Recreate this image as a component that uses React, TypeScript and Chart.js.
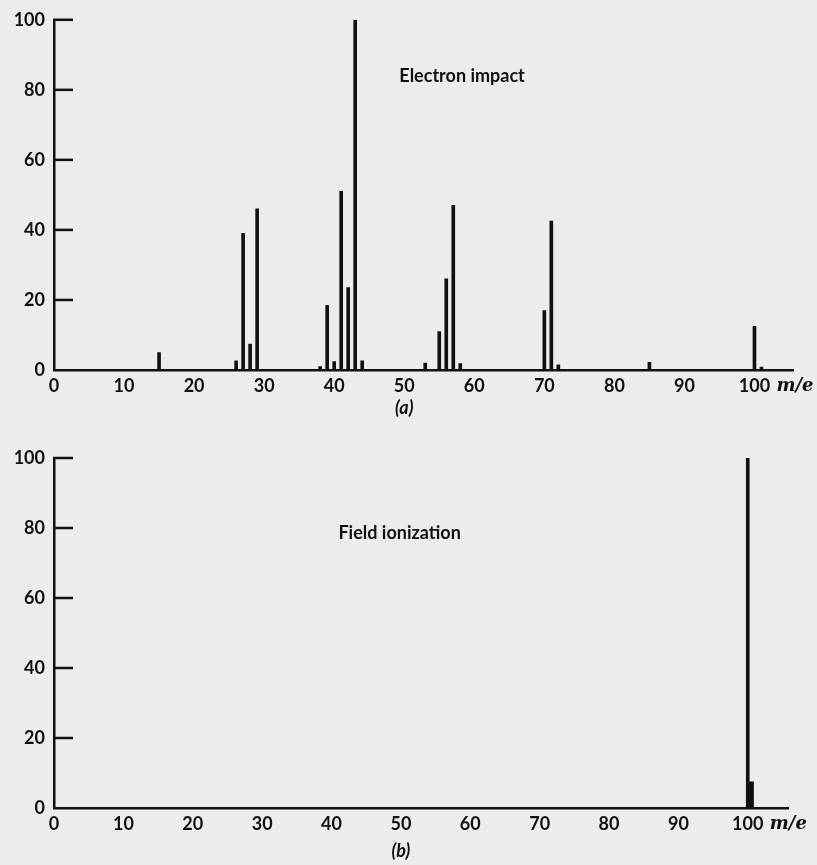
import React, { useEffect, useRef } from 'react';
import { Chart, registerables } from 'chart.js';

Chart.register(...registerables);

// Panel (a): Electron impact
const massA = [15, 26, 27, 28, 29, 38, 39, 40, 41, 42, 43, 44, 53, 55, 56, 57, 58, 70, 71, 72, 85, 100, 101];
const intensityA = [5, 2.6, 39, 7.4, 46, 1, 18.5, 2.4, 51, 23.5, 100, 2.6, 2, 11, 26, 47, 1.8, 17, 42.5, 1.5, 2.2, 12.5, 0.8];

// Panel (b): Field ionization
const massB = [100, 100.4];
const intensityB = [100, 7.5];

const xTickValues = [0, 10, 20, 30, 40, 50, 60, 70, 80, 90, 100];
const yTickValues = [0, 20, 40, 60, 80, 100];

const titleA = 'Electron impact';
const titleB = 'Field ionization';
const panelA = '(a)';
const panelB = '(b)';
const xUnit = 'm/e';

const INK = '#111111';
const TICK_FONT = { family: 'Lato', size: 18, weight: 'bold' as any };

const decorPlugin = {
  id: 'decor',
  afterDraw(chart: any, _args: any, opts: any) {
    const ctx = chart.ctx;
    const xs = chart.scales.x;
    const ys = chart.scales.y;
    const area = chart.chartArea;
    ctx.save();
    ctx.fillStyle = INK;
    // inward y tick marks
    for (const v of yTickValues) {
      if (v <= 0) continue;
      const y = ys.getPixelForValue(v);
      ctx.fillRect(area.left - 1, y - 1.25, 20, 2.5);
    }
    // title
    ctx.font = 'bold 18px Lato';
    ctx.textAlign = 'left';
    ctx.textBaseline = 'middle';
    ctx.fillText(opts.title, xs.getPixelForValue(opts.titleX), ys.getPixelForValue(opts.titleY));
    // unit label next to 100
    ctx.font = 'italic bold 18px "DejaVu Serif"';
    ctx.fillText(xUnit, xs.getPixelForValue(100) + 22, area.bottom + opts.unitDy);
    // panel label
    ctx.font = 'italic bold 18px Lato';
    ctx.textAlign = 'center';
    ctx.fillText(opts.panel, xs.getPixelForValue(50), area.bottom + opts.panelDy);
    ctx.restore();
  },
};

function makeConfig(
  mass: number[],
  inten: number[],
  thick: number[],
  xMax: number,
  padTop: number,
  padRight: number,
  xHeight: number,
  decor: any
): any {
  return {
    type: 'bar',
    data: {
      datasets: mass.map((m, i) => ({
        data: [{ x: m, y: inten[i] }],
        backgroundColor: INK,
        borderWidth: 0,
        barThickness: thick[i],
      })),
    },
    options: {
      responsive: false,
      animation: false,
      layout: { padding: { top: padTop, right: padRight, left: 0, bottom: 0 } },
      plugins: {
        legend: { display: false },
        tooltip: { enabled: false },
        decor,
      },
      datasets: { bar: { grouped: false } },
      scales: {
        x: {
          type: 'linear',
          min: 0,
          max: xMax,
          offset: false,
          grid: { display: false, drawTicks: false },
          border: { display: true, color: INK, width: 2.5 },
          afterFit: (s: any) => {
            s.height = xHeight;
          },
          afterBuildTicks: (s: any) => {
            s.ticks = xTickValues.map((v) => ({ value: v }));
          },
          ticks: {
            autoSkip: false,
            maxRotation: 0,
            padding: 5,
            color: INK,
            font: TICK_FONT,
            callback: (v: any) => String(v),
          },
        },
        y: {
          min: 0,
          max: 100,
          grid: { display: false, drawTicks: false },
          border: { display: true, color: INK, width: 2.5 },
          afterFit: (s: any) => {
            s.width = 54;
          },
          afterBuildTicks: (s: any) => {
            s.ticks = yTickValues.map((v) => ({ value: v }));
          },
          ticks: {
            padding: 9,
            color: INK,
            font: TICK_FONT,
            callback: (v: any) => String(v),
          },
        },
      },
    },
    plugins: [decorPlugin],
  };
}

export default function App() {
  const refA = useRef<HTMLCanvasElement>(null);
  const refB = useRef<HTMLCanvasElement>(null);

  useEffect(() => {
    const a = new Chart(
      refA.current as HTMLCanvasElement,
      makeConfig(massA, intensityA, massA.map(() => 3), 105.5, 18, 24, 50, {
        title: titleA,
        titleX: 49.3,
        titleY: 84,
        panel: panelA,
        unitDy: 16,
        panelDy: 38,
      })
    );
    const b = new Chart(
      refB.current as HTMLCanvasElement,
      makeConfig(massB, intensityB, [3, 6], 105.8, 38, 29, 57, {
        title: titleB,
        titleX: 41,
        titleY: 78.5,
        panel: panelB,
        unitDy: 16,
        panelDy: 43,
      })
    );
    return () => {
      a.destroy();
      b.destroy();
    };
  }, []);

  return (
    <div
      style={{
        position: 'absolute',
        left: 0,
        top: 0,
        width: 817,
        height: 865,
        background: '#ececec',
        overflow: 'hidden',
      }}
    >
      <canvas ref={refA} width={817} height={420} style={{ position: 'absolute', left: 0, top: 0 }} />
      <canvas ref={refB} width={817} height={445} style={{ position: 'absolute', left: 0, top: 420 }} />
    </div>
  );
}
